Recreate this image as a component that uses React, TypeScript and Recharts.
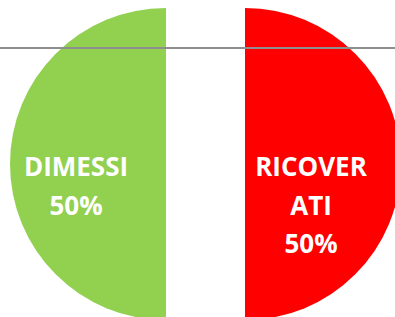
import React from 'react'
import { PieChart, Pie, Cell, Sector } from 'recharts'

// two-slice exploded pie: DIMESSI vs RICOVERATI
const categories = ['DIMESSI', 'RICOVERATI']
const values = [50, 50]
const labelLines = [['DIMESSI'], ['RICOVER', 'ATI']]
const colors = ['#92D050', '#FF0000']

const data = categories.map((name, i) => ({ name, value: values[i] }))

const RAD = Math.PI / 180
const EXPLODE = 39.5

function ExplodedSector(props: any) {
  const { cx, cy, midAngle } = props
  const dx = EXPLODE * Math.cos(-midAngle * RAD)
  const dy = EXPLODE * Math.sin(-midAngle * RAD)
  return <Sector {...props} cx={cx + dx} cy={cy + dy} />
}

function renderLabel(props: any) {
  const { cx, cy, midAngle, percent, index } = props
  const dist = index === 0 ? 129.5 : 105.5
  const x = cx + dist * Math.cos(-midAngle * RAD)
  const lines = [...labelLines[index], `${Math.round(percent * 100)}%`]
  return (
    <text
      x={x}
      y={cy + 12}
      fill="#fff"
      textAnchor="middle"
      style={{ fontFamily: '"Open Sans", sans-serif', fontWeight: 700, fontSize: 26 }}
    >
      {lines.map((l, i) => (
        <tspan key={i} x={x} dy={i === 0 ? 0 : 38.5}>{l}</tspan>
      ))}
    </text>
  )
}

export default function App() {
  return (
    <div style={{ position: 'fixed', left: 0, top: 0, width: 395, height: 317, background: '#fff', overflow: 'hidden' }}>
      <PieChart width={395} height={317} margin={{ top: 0, right: 0, bottom: 0, left: 0 }}>
        <Pie
          data={data}
          dataKey="value"
          nameKey="name"
          cx={205.5}
          cy={164}
          outerRadius={156}
          startAngle={90}
          endAngle={450}
          stroke="none"
          shape={ExplodedSector}
          activeShape={ExplodedSector}
          inactiveShape={ExplodedSector}
          label={renderLabel}
          labelLine={false}
          isAnimationActive={false}
        >
          {data.map((d, i) => (
            <Cell key={d.name} fill={colors[i]} />
          ))}
        </Pie>
      </PieChart>
      <div style={{ position: 'absolute', left: 0, top: 47, width: 395, height: 2, background: '#8e8e8e' }} />
    </div>
  )
}
